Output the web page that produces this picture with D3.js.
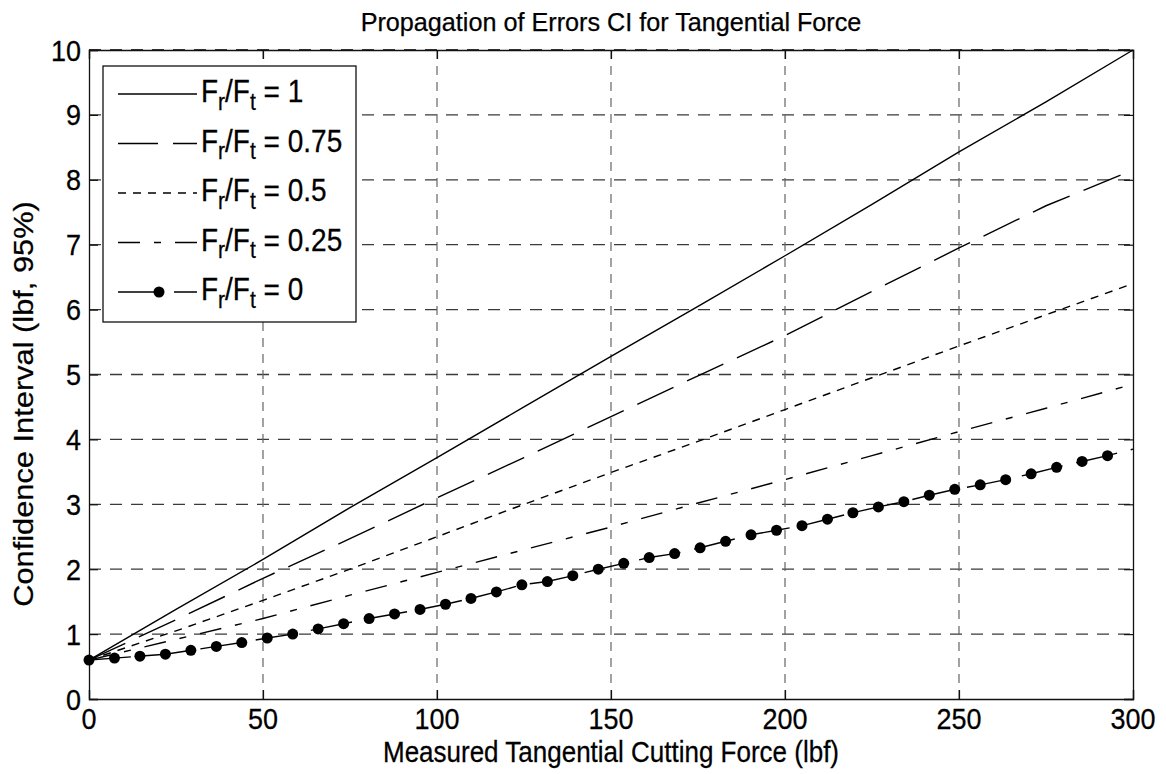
<!DOCTYPE html>
<html><head><meta charset="utf-8">
<script src="https://cdn.jsdelivr.net/npm/d3@7"></script>
<style>
body{margin:0;background:#fff}
text{font-family:"Liberation Sans",Arial,Helvetica,sans-serif;fill:#000;stroke:#000;stroke-width:0.25px}
</style>
</head><body>
<svg id="c" width="1166" height="774"></svg>
<script>
// ---------- data ----------
const xTicks = [0, 50, 100, 150, 200, 250, 300];
const yTicks = [0, 1, 2, 3, 4, 5, 6, 7, 8, 9, 10];
const titleText = "Propagation of Errors CI for Tangential Force";
const xLabelText = "Measured Tangential Cutting Force (lbf)";
const yLabelText = "Confidence Interval (lbf, 95%)";
const legendRatios = ["1", "0.75", "0.5", "0.25", "0"];

const forceGrid   = [0, 25, 50, 75, 100, 125, 150, 175, 200, 225, 250, 275, 300];
const ciRatio1    = [0.60, 1.38, 2.15, 2.95, 3.72, 4.50, 5.28, 6.05, 6.83, 7.62, 8.43, 9.20, 10.00];
const ciRatio075  = [0.60, 1.22, 1.86, 2.47, 3.10, 3.72, 4.35, 4.98, 5.60, 6.28, 6.95, 7.60, 8.15];
const ciRatio05   = [0.60, 1.05, 1.52, 2.00, 2.50, 3.00, 3.49, 3.97, 4.46, 4.95, 5.44, 5.92, 6.40];
const ciRatio025  = [0.60, 0.92, 1.24, 1.60, 1.95, 2.30, 2.65, 3.02, 3.38, 3.75, 4.12, 4.48, 4.85];

// ratio 0 series: markers at every sample but the final end point (300)
const forceRatio0 = [0, 7.32, 14.63, 21.95, 29.27, 36.59, 43.90, 51.22, 58.54, 65.85, 73.17,
  80.49, 87.80, 95.12, 102.44, 109.76, 117.07, 124.39, 131.71, 139.02, 146.34, 153.66,
  160.98, 168.29, 175.61, 182.93, 190.24, 197.56, 204.88, 212.20, 219.51, 226.83, 234.15,
  241.46, 248.78, 256.10, 263.41, 270.73, 278.05, 285.37, 292.68, 300];
const ciRatio0 = [0.60, 0.63, 0.66, 0.69, 0.75, 0.81, 0.87, 0.94, 1.00, 1.08, 1.16,
  1.24, 1.31, 1.38, 1.46, 1.55, 1.65, 1.76, 1.81, 1.90, 2.00, 2.09,
  2.18, 2.24, 2.33, 2.43, 2.53, 2.60, 2.67, 2.77, 2.87, 2.96, 3.04,
  3.14, 3.23, 3.30, 3.38, 3.47, 3.57, 3.66, 3.75, 3.85];

// ---------- layout ----------
const W = 1166, H = 774;
const L = 89, R = 1133, T = 50, B = 699;
const FS = 26, SY = 1.12;
const svg = d3.select("#c");
svg.append("rect").attr("width", W).attr("height", H).attr("fill", "#fff");

const x = d3.scaleLinear().domain([0, 300]).range([L, R]);
const y = d3.scaleLinear().domain([0, 10]).range([B, T]);

function label(parent, px, py, str, anchor, rot, fs, sy) {
  const g = parent.append("g").attr("transform", `translate(${px},${py}) scale(1,${sy || SY})` + (rot ? ` rotate(${rot})` : ""));
  return g.append("text").attr("text-anchor", anchor).attr("font-size", fs || FS).text(str);
}

// grid
const grid = svg.append("g");
grid.selectAll("line.h").data(yTicks.filter(d => d > 0)).join("line")
  .attr("x1", L).attr("x2", R).attr("y1", d => y(d)).attr("y2", d => y(d))
  .attr("stroke", "#3a3a3a").attr("stroke-width", d => d === 10 ? 2 : 1.3)
  .attr("stroke-dasharray", "12,9");
grid.selectAll("line.v").data(xTicks.filter(d => d > 0 && d < 300)).join("line")
  .attr("x1", d => x(d)).attr("x2", d => x(d)).attr("y1", T).attr("y2", B)
  .attr("stroke", "#666").attr("stroke-width", 1.2)
  .attr("stroke-dasharray", "9,7");

// axes with inward ticks (on all four sides)
const axB = d3.axisBottom(x).tickValues(xTicks).tickSize(-9).tickFormat("");
const axT = d3.axisTop(x).tickValues(xTicks).tickSize(-9).tickFormat("");
const axLft = d3.axisLeft(y).tickValues(yTicks).tickSize(-9).tickFormat("");
const axRt = d3.axisRight(y).tickValues(yTicks).tickSize(-9).tickFormat("");
[[axB, `translate(0,${B})`], [axT, `translate(0,${T})`], [axLft, `translate(${L},0)`], [axRt, `translate(${R},0)`]]
  .forEach(([a, tr]) => {
    const g = svg.append("g").attr("transform", tr).call(a);
    g.selectAll("path").attr("stroke", "#111").attr("stroke-width", 1.3);
    g.selectAll("line").attr("stroke", "#111").attr("stroke-width", 1.2);
  });

// tick labels
xTicks.forEach(v => label(svg, x(v), 729, String(v), "middle", null, 27));
yTicks.forEach(v => label(svg, 81, y(v) + 10.5, String(v), "end", null, 27));

// titles
label(svg, (L + R) / 2, 31, titleText, "middle", null, 25.2, 1.0);
label(svg, (L + R) / 2, 762, xLabelText, "middle");
label(svg, 33, 404, yLabelText, "middle", -90, 27.5);

// series
svg.append("clipPath").attr("id", "pc").append("rect")
  .attr("x", L - 8).attr("y", T - 2).attr("width", R - L + 10).attr("height", B - T + 10);
const plot = svg.append("g").attr("clip-path", "url(#pc)");
const line = d3.line().x(d => x(d[0])).y(d => y(d[1]));
const styles = [
  { dash: null },
  { dash: "40,15" },
  { dash: "8,7" },
  { dash: "22,14,7,14" },
  { dash: "42,14" }
];
const series = [
  forceGrid.map((f, i) => [f, ciRatio1[i]]),
  forceGrid.map((f, i) => [f, ciRatio075[i]]),
  forceGrid.map((f, i) => [f, ciRatio05[i]]),
  forceGrid.map((f, i) => [f, ciRatio025[i]]),
  forceRatio0.map((f, i) => [f, ciRatio0[i]])
];
series.forEach((s, i) => {
  plot.append("path").datum(s).attr("d", line)
    .attr("fill", "none").attr("stroke", "#000").attr("stroke-width", 1.4)
    .attr("stroke-dasharray", styles[i].dash);
});
plot.selectAll("circle.m").data(series[4].slice(0, -1)).join("circle")
  .attr("cx", d => x(d[0])).attr("cy", d => y(d[1])).attr("r", 5.5).attr("fill", "#000");

// legend
const lg = svg.append("g");
lg.append("rect").attr("x", 103).attr("y", 66).attr("width", 253).attr("height", 256)
  .attr("fill", "#fff").attr("stroke", "#111").attr("stroke-width", 1.3);
legendRatios.forEach((r, i) => {
  const ly = 94 + i * 49.5;
  lg.append("line").attr("x1", 118).attr("x2", 197).attr("y1", ly).attr("y2", ly)
    .attr("stroke", "#000").attr("stroke-width", 1.4).attr("stroke-dasharray", styles[i].dash);
  if (i === 4) lg.append("circle").attr("cx", 159).attr("cy", ly).attr("r", 5.5).attr("fill", "#000");
  const g = lg.append("g").attr("transform", `translate(201,${ly + 8}) scale(1,${SY})`);
  const t = g.append("text").attr("font-size", 28);
  t.append("tspan").text("F");
  t.append("tspan").attr("font-size", 21).attr("dy", 7).text("r");
  t.append("tspan").attr("dy", -7).text("/F");
  t.append("tspan").attr("font-size", 21).attr("dy", 7).text("t");
  t.append("tspan").attr("dy", -7).text(" = " + r);
});
</script>
</body></html>
